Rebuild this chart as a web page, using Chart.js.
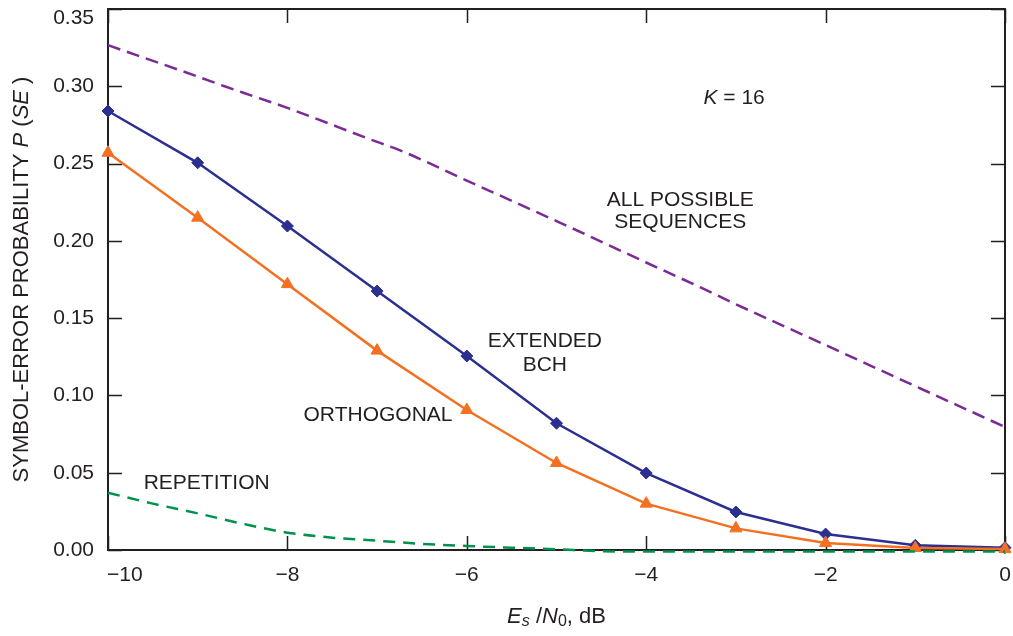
<!DOCTYPE html>
<html>
<head>
<meta charset="utf-8">
<script src="https://cdn.jsdelivr.net/npm/chart.js@4.4.1/dist/chart.umd.min.js"></script>
<style>
    html, body { margin: 0; padding: 0; background: #fff; }
    #wrap { width: 1013px; height: 636px; position: relative; }
</style>
</head>
<body>
<div id="wrap"><canvas id="chart"></canvas></div>
<script>
// x 轴: Es/N0 (dB)
const snrPoints = [-10, -9, -8, -7, -6, -5, -4, -3, -2, -1, 0];
// Extended BCH (菱形)
const bchValues = [0.284, 0.2505, 0.2096, 0.1675, 0.1255, 0.082, 0.0498, 0.0246, 0.0103, 0.003, 0.0015];
// Orthogonal (三角形)
const orthValues = [0.257, 0.215, 0.172, 0.129, 0.0906, 0.0563, 0.030, 0.014, 0.0045, 0.0013, 0.0006];
// All possible sequences (虚线)
const allSeqX = [-10, -9, -8.7, -8.5, -8, -7, -6.75, -6, -5, -4, -3.4, -3, -2, -1, 0];
const allSeqValues = [0.3266, 0.3063, 0.300, 0.296, 0.286, 0.264, 0.2587, 0.239, 0.2128, 0.186, 0.170, 0.159, 0.1326, 0.106, 0.0796];
// Repetition (虚线)
const repX = [-10, -9.5, -9, -8.5, -8, -7.5, -7, -6.5, -6, -5.5, -5, -4.5, -4, -3, -2, -1, 0];
const repValues = [0.037, 0.030, 0.0237, 0.017, 0.0112, 0.008, 0.006, 0.004, 0.0026, 0.0015, 0.0005, -0.0008, -0.001, -0.001, -0.001, -0.001, -0.001];
// 刻度
const xTicks = [-10, -8, -6, -4, -2, 0];
const yTicks = [0, 0.05, 0.10, 0.15, 0.20, 0.25, 0.30, 0.35];

const INK = '#231f20';
const FONT = '"Liberation Sans", Arial, Helvetica, sans-serif';

const toPoints = (xs, ys) => xs.map((x, i) => ({ x: x, y: ys[i] }));

// 文字标注 (数据坐标)
const labels = [
    { x: -3.62, y: 0.226, text: 'ALL POSSIBLE' },
    { x: -3.62, y: 0.212, text: 'SEQUENCES' },
    { x: -5.13, y: 0.135, text: 'EXTENDED' },
    { x: -5.13, y: 0.1197, text: 'BCH' },
    { x: -6.99, y: 0.0873, text: 'ORTHOGONAL' },
    { x: -8.90, y: 0.0433, text: 'REPETITION' }
];

// 画混合字体的一段文字 (居中)
function drawRuns(ctx, runs, cx, cy) {
    let total = 0;
    runs.forEach(r => {
        ctx.font = r.font;
        r.w = ctx.measureText(r.t).width;
        total += r.w;
    });
    let x = cx - total / 2;
    runs.forEach(r => {
        ctx.font = r.font;
        ctx.fillText(r.t, x, cy + (r.dy || 0));
        x += r.w;
    });
}

const fmtX = v => (v < 0 ? '\u2212' + Math.abs(v) : String(v));

const framePlugin = {
    id: 'frame',
    beforeDatasetsDraw(chart) {
        const { ctx, chartArea: a, scales } = chart;
        ctx.save();
        ctx.strokeStyle = INK;
        ctx.lineWidth = 1.5;
        // 刻度 (向内)
        yTicks.forEach(v => {
            const y = Math.round(scales.y.getPixelForValue(v)) + 0.5;
            ctx.beginPath();
            ctx.moveTo(a.left, y); ctx.lineTo(a.left + 14, y);
            ctx.moveTo(a.right, y); ctx.lineTo(a.right - 14, y);
            ctx.stroke();
        });
        xTicks.forEach(v => {
            const x = Math.round(scales.x.getPixelForValue(v)) + 0.5;
            ctx.beginPath();
            ctx.moveTo(x, a.bottom); ctx.lineTo(x, a.bottom - 14);
            ctx.moveTo(x, a.top); ctx.lineTo(x, a.top + 14);
            ctx.stroke();
        });
        ctx.lineWidth = 2;
        ctx.strokeRect(a.left, a.top, a.right - a.left, a.bottom - a.top);

        // 刻度标签
        ctx.fillStyle = INK;
        ctx.font = '21px ' + FONT;
        ctx.textBaseline = 'middle';
        ctx.textAlign = 'right';
        yTicks.forEach(v => {
            const y = Math.max(scales.y.getPixelForValue(v), a.top + 9);
            ctx.fillText(v.toFixed(2), a.left - 14, y);
        });
        xTicks.forEach((v, i) => {
            const x = scales.x.getPixelForValue(v);
            if (i === 0) {
                ctx.textAlign = 'left';
                ctx.fillText(fmtX(v), x - 1, a.bottom + 25);
            } else {
                ctx.textAlign = 'center';
                ctx.fillText(fmtX(v), x, a.bottom + 25);
            }
        });
        ctx.restore();
    },
    afterDatasetsDraw(chart) {
        const { ctx, chartArea: a, scales } = chart;
        ctx.save();
        ctx.fillStyle = INK;
        ctx.textBaseline = 'middle';
        ctx.textAlign = 'left';
        labels.forEach(l => {
            drawRuns(ctx, [{ t: l.text, font: '21px ' + FONT }],
                scales.x.getPixelForValue(l.x), scales.y.getPixelForValue(l.y));
        });
        // K = 16
        drawRuns(ctx, [
            { t: 'K', font: 'italic 21px ' + FONT },
            { t: ' = 16', font: '21px ' + FONT }
        ], scales.x.getPixelForValue(-3.02), scales.y.getPixelForValue(0.292));

        // x 轴标题
        const cx = (a.left + a.right) / 2;
        drawRuns(ctx, [
            { t: 'E', font: 'italic 22px ' + FONT },
            { t: 's', font: 'italic 16px ' + FONT, dy: 5 },
            { t: ' /', font: '22px ' + FONT },
            { t: 'N', font: 'italic 22px ' + FONT },
            { t: '0', font: '16px ' + FONT, dy: 5 },
            { t: ', dB', font: '22px ' + FONT }
        ], cx, 617);

        // y 轴标题
        ctx.translate(22, (a.top + a.bottom) / 2);
        ctx.rotate(-Math.PI / 2);
        drawRuns(ctx, [
            { t: 'SYMBOL-ERROR PROBABILITY ', font: '22px ' + FONT },
            { t: 'P', font: 'italic 22px ' + FONT },
            { t: ' (', font: '22px ' + FONT },
            { t: 'SE', font: 'italic 22px ' + FONT },
            { t: ' )', font: '22px ' + FONT }
        ], 0, 0);
        ctx.restore();
    }
};

new Chart(document.getElementById('chart'), {
    type: 'line',
    data: {
        datasets: [
            {
                label: 'ALL POSSIBLE SEQUENCES',
                data: toPoints(allSeqX, allSeqValues),
                borderColor: '#7a2b95',
                borderWidth: 2.5,
                borderDash: [13, 7],
                pointRadius: 0,
                cubicInterpolationMode: 'monotone',
                clip: false
            },
            {
                label: 'REPETITION',
                data: toPoints(repX, repValues),
                borderColor: '#00914c',
                borderWidth: 2.5,
                borderDash: [12, 8],
                pointRadius: 0,
                cubicInterpolationMode: 'monotone',
                clip: false
            },
            {
                label: 'ORTHOGONAL',
                data: toPoints(snrPoints, orthValues),
                borderColor: '#f37021',
                backgroundColor: '#f37021',
                borderWidth: 2.5,
                pointStyle: 'triangle',
                pointRadius: 7,
                pointBorderWidth: 1,
                tension: 0,
                clip: false
            },
            {
                label: 'EXTENDED BCH',
                data: toPoints(snrPoints, bchValues),
                borderColor: '#2b2f8f',
                backgroundColor: '#2b2f8f',
                borderWidth: 2.5,
                pointStyle: 'rectRot',
                pointRadius: 6,
                pointBorderWidth: 1,
                tension: 0,
                clip: false
            }
        ]
    },
    options: {
        responsive: true,
        maintainAspectRatio: false,
        animation: false,
        layout: { padding: { top: 9, right: 7, left: 0, bottom: 0 } },
        plugins: {
            legend: { display: false },
            tooltip: { enabled: false }
        },
        scales: {
            x: {
                type: 'linear',
                min: -10,
                max: 0,
                afterFit(scale) { scale.height = 86; },
                grid: { display: false, drawTicks: false },
                border: { display: false },
                ticks: { display: false, stepSize: 2 }
            },
            y: {
                min: 0,
                max: 0.35,
                afterFit(scale) { scale.width = 108; },
                grid: { display: false, drawTicks: false },
                border: { display: false },
                ticks: { display: false, stepSize: 0.05 }
            }
        }
    },
    plugins: [framePlugin]
});
</script>
</body>
</html>
